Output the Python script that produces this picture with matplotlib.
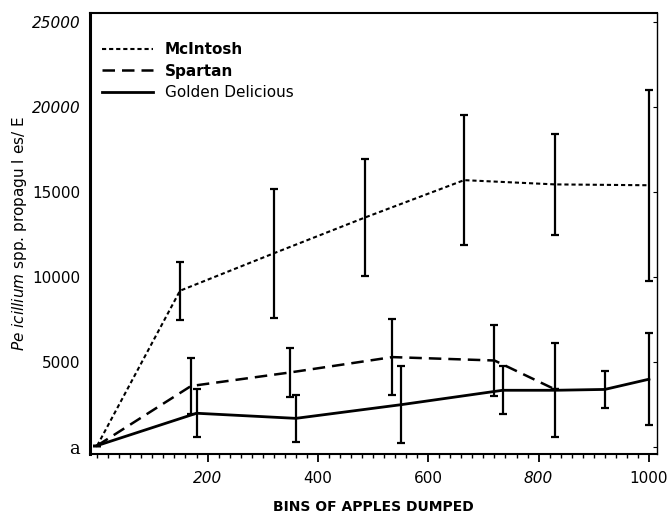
import matplotlib
matplotlib.use("Agg")
import matplotlib.pyplot as plt
from matplotlib.lines import Line2D
from matplotlib.ticker import MultipleLocator

#--------------------------------------------------------------------------------------------------------------------------------
# Data
#--------------------------------------------------------------------------------------------------------------------------------

mcintosh_x = [0, 150, 320, 485, 665, 830, 1000]
mcintosh_y = [100, 9200, 11400, 13500, 15700, 15450, 15400]
mcintosh_err = [0, 1700, 3800, 3450, 3800, 2950, 5600]

spartan_x = [0, 170, 350, 535, 720, 830]
spartan_y = [100, 3600, 4400, 5300, 5100, 3400]
spartan_err = [0, 1650, 1450, 2250, 2100, 0]

golden_x = [0, 180, 360, 550, 735, 830, 920, 1000]
golden_y = [100, 2000, 1700, 2500, 3350, 3350, 3400, 4000]
golden_err = [0, 1400, 1400, 2250, 1400, 2750, 1100, 2700]

series_names = ["McIntosh", "Spartan", "Golden Delicious"]

x_ticks = [200, 400, 600, 800, 1000]
x_tick_labels = ["200", "400", "600", "800", "1000"]
y_ticks = [0, 5000, 10000, 15000, 20000, 25000]
y_tick_labels = ["a", "5000", "10000", "15000", "20000", "25000"]

#--------------------------------------------------------------------------------------------------------------------------------
# Figure
#--------------------------------------------------------------------------------------------------------------------------------

fig = plt.figure(figsize=(6.72, 5.16), dpi=100)
ax = fig.add_axes([0.134, 0.120, 0.844, 0.855])

err_kw = dict(ecolor="black", elinewidth=1.6, capsize=3, capthick=1.6)

styles = [
    dict(lw=1.5, linestyle=(0, (2, 1.4))),   # McIntosh, short dashes
    dict(lw=1.8, linestyle=(0, (5, 2.8))),   # Spartan, long dashes
    dict(lw=2.0, linestyle="-"),             # Golden Delicious, solid
]

# Plot each series with its error bars
ax.errorbar(mcintosh_x, mcintosh_y, yerr=mcintosh_err, color="black", **styles[0], **err_kw)
ax.errorbar(spartan_x, spartan_y, yerr=spartan_err, color="black", **styles[1], **err_kw)
ax.errorbar(golden_x, golden_y, yerr=golden_err, color="black", **styles[2], **err_kw)

# Set the axes limits
ax.set_xlim(-13, 1015)
ax.set_ylim(-400, 25530)

# Ticks
ax.set_xticks(x_ticks)
ax.set_xticklabels(x_tick_labels)
ax.xaxis.set_minor_locator(MultipleLocator(20))
ax.tick_params(axis="x", which="major", direction="out", length=6, width=1.3, labelsize=11, pad=6)
ax.tick_params(axis="x", which="minor", direction="out", length=3, width=1)
ax.set_yticks(y_ticks)
ax.set_yticklabels(y_tick_labels)
ax.tick_params(axis="y", which="major", left=False, right=True, direction="in", length=3,
               labelsize=11, pad=7)

for lab in ax.get_xticklabels():
    if lab.get_text() in ("200", "800"):
        lab.set_style("italic")
for lab in ax.get_yticklabels():
    if lab.get_text() in ("20000", "25000"):
        lab.set_style("italic")
    if lab.get_text() == "a":
        lab.set_family("DejaVu Serif")
        lab.set_fontsize(13)

# Spines
ax.spines["left"].set_linewidth(2.2)
ax.spines["bottom"].set_linewidth(1.5)
ax.spines["top"].set_linewidth(1.5)
ax.spines["right"].set_linewidth(1.0)

# Set labels for axes
ax.set_xlabel("BINS OF APPLES DUMPED", fontsize=10, fontweight="bold", labelpad=10)
ax.set_ylabel(r"$\it{Pe\ icillium}$ spp. propagu l es/ E", fontsize=11, labelpad=2)

# Legend (plain line handles, no error bar marks)
handles = [Line2D([], [], color="black", **s) for s in styles]
leg = ax.legend(handles, series_names, loc="upper left", frameon=False, handlelength=3.3,
                fontsize=11, bbox_to_anchor=(-0.003, 0.965), labelspacing=0.42,
                handletextpad=0.8)
for t in leg.get_texts()[:2]:
    t.set_fontweight("bold")

fig.savefig("out.png", dpi=100)
